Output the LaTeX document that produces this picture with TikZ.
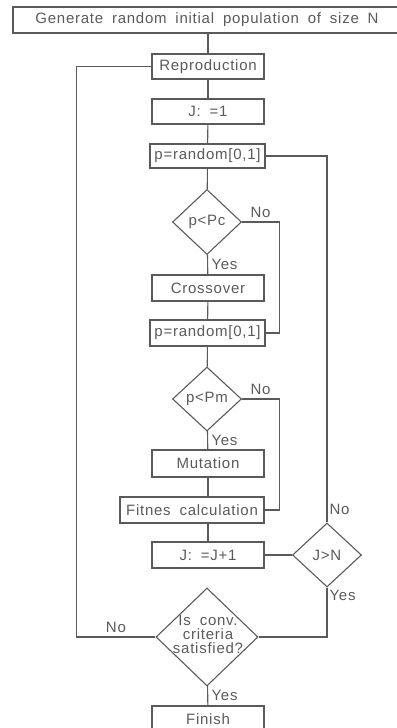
\documentclass[tikz,border=0pt]{standalone}
\usepackage{fontspec}
\setmainfont[LetterSpace=5,WordSpace=1.8]{Liberation Sans}
\usetikzlibrary{shapes.geometric}
\definecolor{cadgray}{RGB}{90,90,90}

\begin{document}
\begin{tikzpicture}[x=1bp, y=-1bp,
  every node/.style={font=\fontsize{15bp}{14bp}\selectfont, text=cadgray},
  block/.style={rectangle, draw=cadgray, line width=1.1bp, minimum height=25bp, minimum width=112bp, inner sep=0pt},
  decision/.style={diamond, draw=cadgray, line width=1.1bp, inner sep=0pt, minimum width=69bp, minimum height=65bp},
  link/.style={draw=cadgray, line width=1.1bp}]
  \useasboundingbox (0,0) rectangle (396,728);
  % Nodes
  \node (init) [block, minimum width=388bp, minimum height=26bp] at (207, 20) {Generate random initial population of size N};
  \node (repro) [block] at (208, 66.5) {Reproduction};
  \node (j-one) [block] at (208, 111.5) {J: =1};
  \node (rand-c) [block, minimum width=115bp, minimum height=24bp] at (207.5, 156) {p=random[0,1]};
  \node (pc) [decision] at (207, 222) {p<Pc};
  \node (cross) [block, minimum height=26bp] at (208, 288) {Crossover};
  \node (rand-m) [block, minimum width=115bp, minimum height=26bp] at (207.5, 333) {p=random[0,1]};
  \node (pm) [decision, minimum height=64bp] at (207, 399) {p<Pm};
  \node (mut) [block, minimum height=27bp] at (208, 463.5) {Mutation};
  \node (fit) [block, minimum width=144bp, minimum height=26bp] at (192, 510) {Fitnes calculation};
  \node (j-inc) [block, minimum height=26bp] at (208, 555) {J: =J+1};
  \node (jn) [decision, minimum height=64bp] at (327, 555) {J>N};
  \node (conv) [decision, minimum width=102bp, minimum height=98bp] at (207, 637) {};
  \node (conv-text) [align=center, inner sep=0pt] at (208, 634) {Is conv.\\criteria\\satisfied?};
  \node (finish) [block, minimum height=26bp] at (208, 719) {Finish};
  % Lines
  \draw[link] (repro.north) -- (repro.north |- init.south);
  \draw[link] (repro) -- (j-one);
  \draw[link] (j-one) -- (rand-c);
  \draw[link] (rand-c) -- (pc);
  \draw[link] (pc) -- (cross) node[midway, right] {Yes};
  \draw[link] (cross) -- (rand-m);
  \draw[link] (rand-m) -- (pm);
  \draw[link] (pm) -- (mut) node[midway, right] {Yes};
  \draw[link] (mut.south) -- (mut.south |- fit.north);
  \draw[link] (j-inc.north) -- (j-inc.north |- fit.south);
  \draw[link] (pc.east) -- node[above] {No} ++(37,0) |- (rand-m.east);
  \draw[link] (pm.east) -- node[above] {No} ++(37,0) |- (fit.east);
  \draw[link] (rand-c.east) -| (jn.north) node[pos=1, above right, inner sep=2pt, yshift=5bp] {No};
  \draw[link] (j-inc) -- (jn);
  \draw[link] (jn.south) |- (conv.east) node[pos=0, below right, inner sep=2pt] {Yes};
  \draw[link] (conv.west) -- node[above] {No} ++(-79,0) |- (repro.west);
  \draw[link] (conv) -- (finish) node[midway, right] {Yes};
\end{tikzpicture}
\end{document}
